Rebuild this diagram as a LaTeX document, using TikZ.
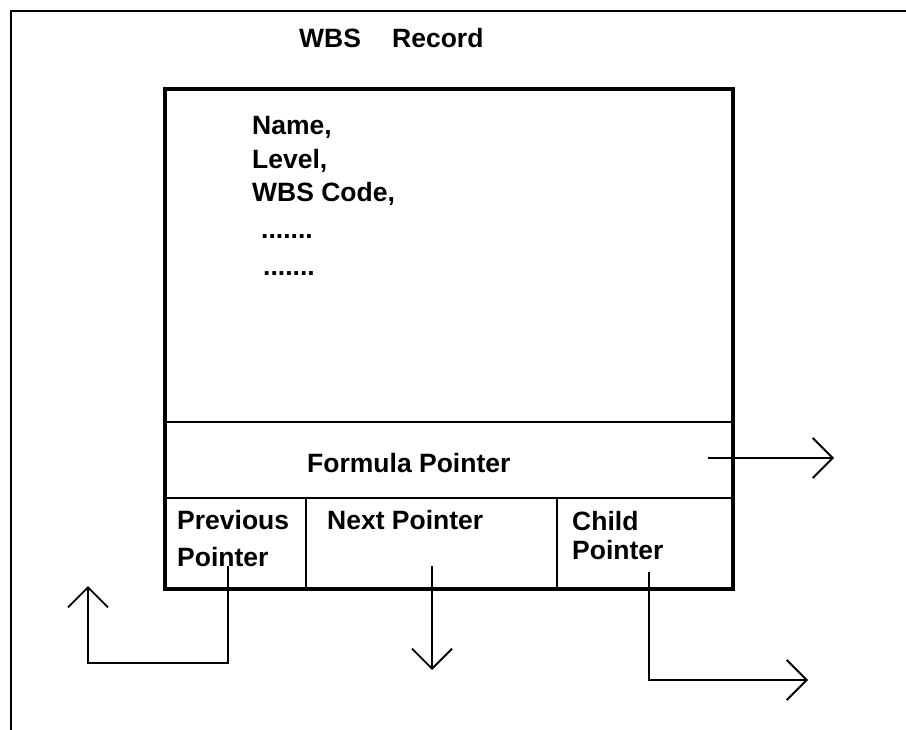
\documentclass[tikz,border=0pt]{standalone}
\usepackage{fontspec}
\setmainfont{Liberation Sans}
\usetikzlibrary{arrows.meta}
\begin{document}
\begin{tikzpicture}[x=1pt,y=-1pt,
  lbl/.style={anchor=base west,inner sep=0pt,font=\bfseries\fontsize{26.5}{33}\selectfont},
  thin line/.style={line width=1.8pt},
  thick line/.style={line width=4pt},
  ptr/.style={line width=1.8pt,-{Straight Barb[length=20pt,width=40pt,line width=1.8pt]}}]
\useasboundingbox (0,0) rectangle (906,730);
\fill[white] (0,0) rectangle (906,730);
% outer frame
\draw[line width=2pt] (11,730) -- (11,11) -- (906,11);
% title
\node[lbl] (t1) at (299,48) {WBS};
\node[lbl] (t2) at (392,48) {Record};
% record box
\draw[thin line] (165,422) -- (733,422);
\draw[thin line] (165,498) -- (733,498);
\draw[thin line] (306,498) -- (306,589);
\draw[thin line] (557,498) -- (557,589);
\draw[thick line] (165,89) rectangle (733,589);
% texts
\node[lbl] (n1) at (252,135) {Name,};
\node[lbl] (n2) at (252,169) {Level,};
\node[lbl] (n3) at (252,202) {WBS Code,};
\node[lbl] (n4) at (261,239) {.......};
\node[lbl] (n5) at (263,276) {.......};
\node[lbl] (fp) at (307,472) {Formula Pointer};
\node[lbl] (pv1) at (177,529) {Previous};
\node[lbl] (pv2) at (177,566) {Pointer};
\node[lbl] (nx) at (327,529) {Next Pointer};
\node[lbl] (ch1) at (572,530) {Child};
\node[lbl] (ch2) at (572,559) {Pointer};
% pointer coordinates
\coordinate (fs) at (708,458);
\coordinate (fe) at (834,458);
\coordinate (ps) at (228,566);
\coordinate (p1) at (228,663);
\coordinate (p2) at (88,663);
\coordinate (pe) at (88,586);
\coordinate (ns) at (432,566);
\coordinate (ne) at (432,670);
\coordinate (cs) at (649,572);
\coordinate (c1) at (649,680);
\coordinate (ce) at (808,680);
\draw[ptr] (fs) -- (fe);
\draw[ptr] (ps) -- (p1) -- (p2) -- (pe);
\draw[ptr] (ns) -- (ne);
\draw[ptr] (cs) -- (c1) -- (ce);
\end{tikzpicture}
\end{document}
